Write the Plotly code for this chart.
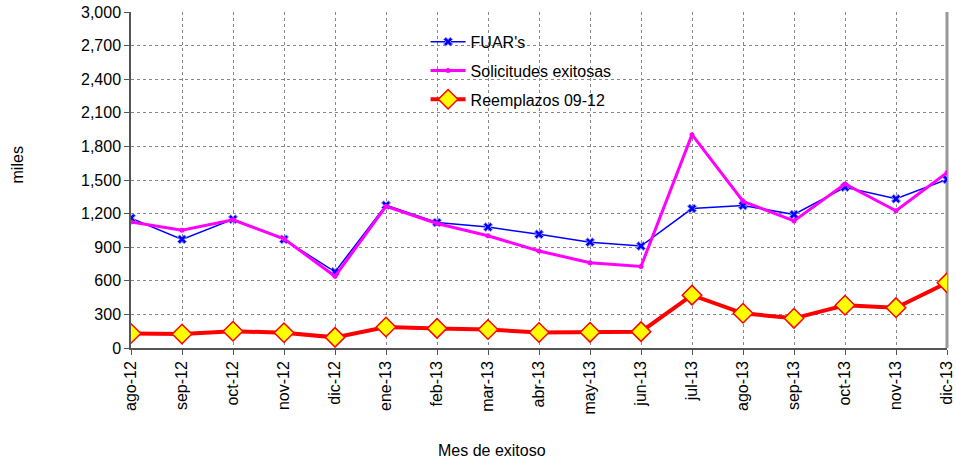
import plotly.graph_objects as go

months = ["ago-12", "sep-12", "oct-12", "nov-12", "dic-12", "ene-13", "feb-13", "mar-13",
          "abr-13", "may-13", "jun-13", "jul-13", "ago-13", "sep-13", "oct-13", "nov-13", "dic-13"]
fuars = [1160, 970, 1150, 970, 680, 1275, 1120, 1080, 1015, 945, 910, 1245, 1272, 1192, 1435, 1332, 1505]
solicitudes = [1125, 1052, 1145, 975, 640, 1265, 1112, 1002, 866, 762, 728, 1905, 1310, 1135, 1465, 1225, 1565]
reemplazos = [130, 125, 150, 136, 95, 188, 175, 165, 138, 140, 146, 472, 310, 265, 382, 360, 582]

y_ticks = list(range(0, 3001, 300))
y_tick_labels = [f"{v:,}" for v in y_ticks]

font_family = "Liberation Sans, Arial, sans-serif"

fig = go.Figure()
fig.add_trace(go.Scatter(
    x=months, y=fuars, name="FUAR's", mode="lines+markers", legendgroup="a",
    line=dict(color="#0000FF", width=1.5),
    marker=dict(symbol="x", size=8, color="#0000FF", line=dict(color="#9999FF", width=1)),
))
fig.add_trace(go.Scatter(
    x=months, y=solicitudes, name="Solicitudes exitosas", mode="lines+markers", legendgroup="b",
    line=dict(color="#FF00FF", width=3),
    marker=dict(symbol="circle", size=5, color="#FF00FF"),
))
fig.add_trace(go.Scatter(
    x=months, y=reemplazos, name="Reemplazos 09-12", mode="lines+markers", legendgroup="c",
    line=dict(color="#FF0000", width=4),
    marker=dict(symbol="diamond", size=15, color="#FFFF00", line=dict(color="#FF0000", width=1.5)),
))

fig.update_layout(
    width=956, height=463,
    margin=dict(l=131, r=9, t=12, b=115),
    paper_bgcolor="white", plot_bgcolor="white",
    font=dict(family=font_family, size=16, color="black"),
    showlegend=True,
    legend=dict(x=0.361, y=0.962, xanchor="left", yanchor="top", bgcolor="rgba(0,0,0,0)",
                font=dict(size=16), tracegroupgap=5, itemwidth=35),
)
fig.update_xaxes(
    type="category", range=[0, len(months) - 1], automargin=False,
    tickangle=-90, tickfont=dict(size=16),
    showgrid=True, gridcolor="#888888", griddash="dot", gridwidth=1,
    showline=True, linecolor="#555555", linewidth=1.5,
    ticks="outside", ticklen=5, tickcolor="#555555",
)
fig.update_yaxes(
    range=[0, 3000], tickvals=y_ticks, ticktext=y_tick_labels, tickfont=dict(size=16),
    automargin=False,
    showgrid=True, gridcolor="#888888", griddash="dot", gridwidth=1,
    showline=True, linecolor="#555555", linewidth=1.5,
    ticks="outside", ticklen=5, tickcolor="#555555",
    zeroline=False,
)
fig.add_shape(type="line", xref="paper", yref="paper", x0=1, x1=1, y0=0, y1=1,
              line=dict(color="#999999", width=3), layer="below")
fig.add_annotation(text="miles", xref="paper", yref="paper", x=-0.139, y=0.545,
                   textangle=-90, showarrow=False, font=dict(size=16),
                   xanchor="center", yanchor="middle")
fig.add_annotation(text="Mes de exitoso", xref="paper", yref="paper", x=0.443, y=-0.304,
                   showarrow=False, font=dict(size=16),
                   xanchor="center", yanchor="middle")

fig.write_html("out.html", config={"displayModeBar": False},
               post_script="document.body.style.margin='0';")
